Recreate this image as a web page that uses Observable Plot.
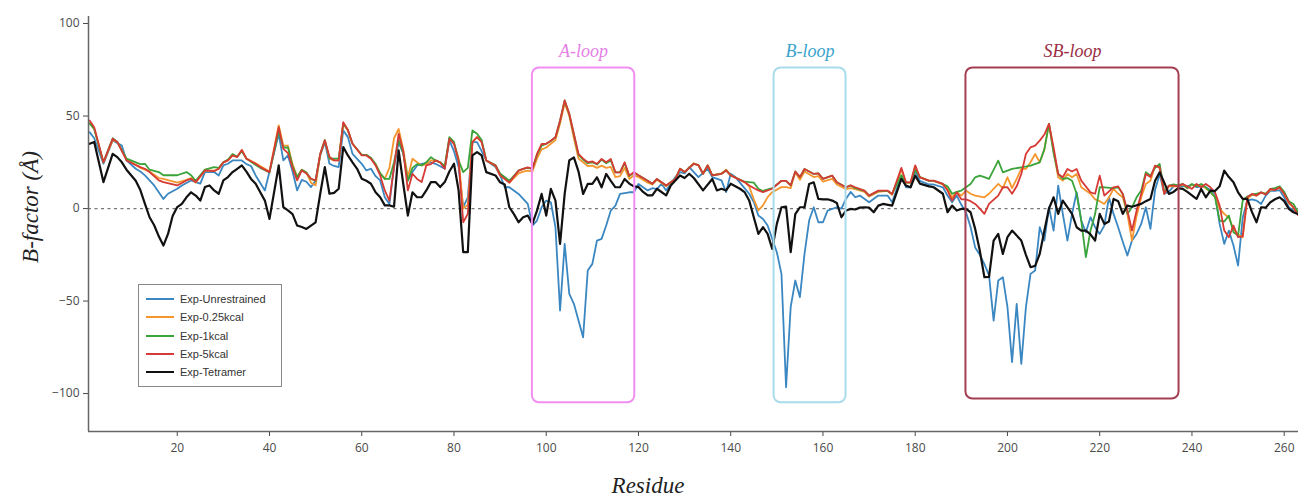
<!DOCTYPE html>
<html><head><meta charset="utf-8">
<script src="https://cdn.jsdelivr.net/npm/d3@7"></script>
<script src="https://cdn.jsdelivr.net/npm/@observablehq/plot@0.6"></script>
<style>
body{margin:0;background:#fff;}
#wrap{position:relative;width:1298px;height:497px;overflow:hidden;}
.ylab{position:absolute;left:31px;top:207px;transform:translate(-50%,-50%) rotate(-90deg);font:italic 23px "Liberation Serif",serif;color:#222;white-space:nowrap;}
.xlab{position:absolute;left:648px;top:486px;transform:translate(-50%,-50%);font:italic 23px "Liberation Serif",serif;color:#222;white-space:nowrap;}
#legend{position:absolute;left:138px;top:284px;width:144px;height:103px;border:1px solid #888;box-sizing:border-box;font:11px "Liberation Sans",Arial,sans-serif;color:#333;background:#fff;}
.row{position:absolute;left:7px;height:14px;display:flex;align-items:center;white-space:nowrap;}
.sw{width:28px;height:0;border-top:2px solid;margin-right:6px;}
</style></head><body><div id="wrap"></div>
<script>
const seriesNames = ["Exp-Unrestrained","Exp-0.25kcal","Exp-1kcal","Exp-5kcal","Exp-Tetramer"];
const seriesColors = ["#3a87c2","#f5962e","#3aa33a","#d63a35","#111111"];

const unrestrained = [[1,41.3],[2,38],[4,24.2],[6,36.8],[8,34],[9,26],[11,21.5],[12,20],[13,17.9],[15,12.5],[17,5.2],[18,8],[20,10.7],[21,12.5],[23,15.2],[24,14.3],[25,13.5],[26,19.7],[28,19.7],[29,17.9],[30,23.3],[31,24.2],[32,26],[34,26],[35,24],[36,23],[37,17.9],[39,9.8],[42,40.4],[43,26],[44,28.7],[45,20],[46,9.8],[47,15.5],[48,14.5],[49,11.6],[50,15],[51,28.7],[52,35.9],[53,24.2],[54,23],[55,22.4],[56,42.2],[57,38.6],[58,29.6],[60,24.2],[61,20.6],[62,21.5],[63,17.5],[64,15.2],[65,6.1],[66,2.5],[67,22.4],[68,35.9],[69,29.6],[70,15.2],[71,19.7],[72,23.3],[73,24.2],[75,25],[76,24.2],[78,21.5],[79,36.8],[80,31],[81,22.4],[82,0.8],[83,6.1],[84,35.9],[85,35.9],[87,26],[89,22.4],[90,18],[91,11.5],[92,11.5],[94,7.9],[95,5.2],[96,2.5],[97,-9.2],[98,-6.5],[99,0.7],[100,4.3],[101,3.4],[102,-10.1],[103,-55.1],[104,-19.1],[105,-46.1],[106,-51.5],[108,-69.6],[109,-33.5],[110,-29.9],[111,-17.3],[112,-16.4],[113,-9.2],[114,-1.1],[115,1.6],[116,7.9],[118,8.8],[119,8.8],[120,13.3],[121,11.5],[122,9.8],[123,11],[124,10.5],[125,13.4],[126,9.8],[128,17],[129,19.7],[130,19],[131,22.4],[133,17],[135,21.5],[136,17],[138,15.2],[139,8.9],[140,18.8],[141,17],[142,14],[144,8],[145,3.5],[146,-3.8],[147,-5.6],[148,-9.2],[150,-23.6],[151,-35.3],[152,-96.6],[153,-53.3],[154,-38.9],[155,-47.9],[156,-24.5],[157,-6.5],[158,0.7],[159,-7.4],[160,-7.4],[161,-1.1],[163,0.7],[164,0],[165,5.3],[166,9],[167,6.1],[168,7],[170,3.4],[172,7],[174,7],[175,3.4],[177,17.8],[178,11.5],[179,11.5],[180,20.5],[181,15],[183,13],[184,13],[186,11.5],[187,7],[188,3.4],[189,7],[190,2],[191,-2],[192,-10],[193,-21],[194,-25],[195,-30],[196,-36],[197,-60.6],[198,-38.9],[199,-37.1],[200,-53.3],[201,-83],[202,-51.5],[203,-84],[204,-53.3],[205,-35.3],[206,-33.5],[207,-10.1],[208,-17.3],[209,0.7],[210,-11.9],[211,12.4],[212,-2.9],[213,-17.3],[214,-2.9],[215,8.8],[216,-6.5],[217,-12.8],[218,-4.7],[219,-10.1],[220,-13.7],[221,-9.2],[222,6.1],[223,-2.9],[224,-10.1],[225,-18],[226,-25.4],[227,-17.3],[228,-13.7],[229,-8.3],[230,0.7],[231,-11],[232,10],[233,18.7],[234,8],[235,9],[236,12],[237,12.5],[238,12],[239,12],[240,13],[241,11.5],[242,12],[243,11.5],[244,10],[245,7.9],[246,-8.3],[247,-19.1],[248,-11.9],[249,-20],[250,-30.8],[251,-5],[252,4.3],[253,5],[254,4.3],[255,2.5],[256,7],[257,9.5],[258,9.5],[259,10],[260,6],[261,0.7],[262,-1],[263,-1.5],[264,-2]];

const kcal025 = [[1,46],[2,43],[4,25],[6,37],[7,36],[9,26.5],[12,22],[13,21],[14,20],[16,16.5],[17,16],[20,14],[22,15.5],[23,16.5],[24,14],[26,20.6],[28,20.5],[29,21.5],[30,25],[31,26],[32,28.7],[33,28],[34,31.7],[35,27],[37,24.5],[38,23],[40,20],[42,45],[43,34],[44,34],[45,24],[46,17],[47,21],[48,19.5],[49,14],[50,12.5],[51,29],[52,37],[53,27],[54,26],[55,26],[56,46],[57,42],[58,35],[60,29],[61,29],[62,27],[63,24],[64,19],[65,16],[66,22],[67,38],[68,43],[69,32],[70,17],[71,26.9],[72,25],[73,23.3],[74,24],[75,26],[76,26],[77,25],[78,22],[79,38],[80,35],[81,27],[82,0],[83,2],[84,36],[85,38.6],[86,36],[87,26],[89,23],[90,18],[92,14],[94,19],[95,20],[96,20.5],[97,20],[98,27],[99,32],[100,33],[101,35],[102,37],[103,46],[104,57],[105,50],[106,38],[107,27],[108,25],[109,23],[110,23.2],[111,22],[112,23.2],[113,22],[114,22.5],[115,17],[116,17.5],[117,22],[118,16],[119,18],[120,17],[122,14],[123,13],[124,15.5],[126,12],[128,16],[129,21.5],[130,19.7],[132,24.5],[133,23.5],[134,18.8],[135,23.5],[136,18],[138,19],[139,21],[140,18],[143,14.3],[144,12],[145,5],[146,-1],[147,1.7],[148,6.2],[149,8.9],[151,11.6],[152,11.6],[153,11],[154,19.6],[155,15.5],[156,20],[158,17],[159,17.5],[160,14.5],[162,16],[163,13],[165,10.5],[166,11],[167,10.5],[169,9],[170,6.5],[172,9],[174,9.5],[175,7.5],[177,21],[178,14],[179,14],[180,23],[181,17],[183,15],[184,15],[186,13],[187,10.6],[188,6],[189,9],[190,7],[191,9.7],[192,8],[193,7],[195,6.1],[196,8],[198,13.3],[199,11],[200,16.9],[201,11],[202,16],[203,21.4],[204,21.4],[205,25],[206,29.5],[207,25],[208,32],[209,45.8],[210,31],[211,16.9],[212,15.1],[213,18.7],[214,16.9],[215,18.7],[216,11.5],[218,8],[219,5],[220,4],[221,2.5],[222,6],[223,10.6],[224,8],[225,6.1],[226,-3],[227,-17.3],[228,-4],[229,6.1],[230,13.3],[231,15],[232,23],[233,22],[234,8],[235,12],[236,12],[237,12],[238,13],[239,11],[240,13],[241,12],[242,13],[243,11],[244,9],[245,6.1],[246,0],[247,-2.9],[248,-5],[249,-11],[250,-14],[251,-15.5],[252,5],[253,7.5],[254,7],[255,8.5],[256,8],[257,10],[258,10.5],[259,11],[260,8],[261,3],[262,0.5],[263,-3],[264,-5]];

const kcal1 = [[1,46],[2,43],[4,25],[6,38],[7,36],[9,27],[12,24],[13,24.2],[14,21],[16,19.7],[17,18],[20,18],[22,19.7],[23,18],[24,15],[26,21],[28,22.4],[29,22],[30,25],[31,26.5],[32,29.5],[33,28],[34,31],[35,27],[37,23.5],[38,22],[40,19.5],[42,42],[43,33],[44,33],[45,23],[46,17],[47,21],[48,19.5],[49,16],[50,15],[51,29.5],[52,37],[53,27],[54,27],[55,27],[56,46],[57,42.5],[58,35],[60,29],[61,29],[62,27.5],[63,24],[64,19],[65,16],[66,16],[67,25],[68,37],[69,30],[70,15],[71,22],[72,24],[73,23.3],[74,25],[75,27.8],[76,26],[77,25],[78,23],[79,38.6],[80,36],[81,26],[82,19.7],[83,22],[84,42.2],[85,40.4],[86,37],[87,26],[89,23.5],[90,19],[92,15],[94,20.5],[95,21.5],[96,22],[97,21.5],[98,29],[99,34],[100,35],[101,36.5],[102,38.5],[103,47.5],[104,58.4],[105,51],[106,40],[107,29],[108,26.5],[109,24.5],[110,25],[111,23.8],[112,26.5],[113,24.5],[114,26],[115,19.5],[116,19.5],[117,24.5],[118,17.5],[119,19.5],[120,18],[122,15],[123,13.4],[124,16],[126,12.5],[128,16],[129,21.5],[130,19.7],[132,24.2],[133,23.5],[134,18.8],[135,23.3],[136,17.9],[138,18.8],[139,20.6],[140,17.9],[143,14.5],[144,14.3],[145,14],[146,10.7],[147,9.5],[149,11],[151,15],[152,15],[153,12.5],[154,20],[155,17],[156,21.4],[158,18.7],[159,19],[160,16],[162,17.8],[163,14.2],[165,11.5],[166,12.5],[167,11],[169,9.5],[170,7],[172,9.5],[174,9.5],[175,7.9],[177,18],[178,14],[179,14],[180,21],[181,17],[183,15],[184,15],[186,13.3],[187,12],[188,8],[189,9],[190,9.7],[191,11.5],[192,13.3],[193,16.9],[194,17.8],[195,17],[196,16],[198,25.9],[199,19.6],[200,20.5],[201,21.4],[203,22.3],[205,23.2],[207,25],[208,32],[209,45.8],[210,30],[211,18.7],[212,16],[213,16.5],[214,15],[215,8],[216,-6.5],[217,-26.3],[218,-12],[219,-3],[220,11.5],[221,11.5],[223,11],[224,11.5],[225,7.9],[226,-2.9],[227,0.7],[228,6.1],[229,9.7],[230,19.6],[231,17.8],[232,22],[233,24.1],[234,8.8],[235,12.4],[236,13],[237,12.5],[238,13.3],[239,11],[240,13.3],[241,12],[242,13.3],[243,11.5],[244,9],[245,6.1],[246,-6.5],[247,-7],[248,-3.8],[249,-12.8],[250,-14.6],[251,4.3],[252,6.5],[253,7.5],[254,8],[255,8.8],[256,8],[257,10.6],[258,11],[259,12],[260,9],[261,4],[262,2.5],[263,-2],[264,-4]];

const kcal5 = [[1,47.6],[2,44],[4,25],[6,37.7],[7,36],[9,26],[12,22.4],[13,21.5],[14,19.7],[16,15.2],[17,14.3],[20,12.5],[22,15.2],[23,16.1],[24,14.3],[26,20.6],[28,20.2],[29,21.5],[30,25],[31,26],[32,28.7],[33,27.8],[34,31.7],[35,26.9],[37,24.2],[38,22.4],[40,19.7],[42,44],[43,32.3],[44,30],[45,22],[46,15.2],[47,20.6],[48,19],[49,16.1],[50,15.2],[51,29.6],[52,36.8],[53,28],[54,26],[55,26],[56,46.7],[57,42.5],[58,35],[60,28.7],[61,28.7],[62,26.9],[63,23.3],[64,17.9],[65,9.8],[66,4.3],[67,22.4],[68,40.4],[69,31],[70,9.8],[71,18.8],[72,16],[73,14.3],[74,23.3],[75,24],[76,26],[77,25],[78,21.5],[79,37.7],[80,35],[81,26],[82,-7.4],[83,-2.9],[84,35.9],[85,38.6],[86,35.9],[87,26],[89,23.3],[90,18],[92,14],[94,20.5],[95,21.4],[96,22.3],[97,21.4],[98,29.5],[99,34.9],[100,35],[101,36.7],[102,38.5],[103,47.6],[104,58.4],[105,51.2],[106,40.3],[107,29.5],[108,27],[109,25],[110,25.5],[111,24.1],[112,26.8],[113,25],[114,26.8],[115,19.6],[116,19.6],[117,25],[118,17.8],[119,19.6],[120,18],[122,15],[123,13.4],[124,16],[126,12.5],[128,16],[129,21.5],[130,19.7],[132,24.2],[133,23.5],[134,18.8],[135,23.3],[136,17.9],[138,18.8],[139,20.6],[140,17.9],[143,14.3],[144,12.5],[146,9.8],[147,8.9],[149,10.7],[151,15],[152,15],[153,12.5],[154,20],[155,17],[156,21.4],[158,18.7],[159,19],[160,16],[162,17.8],[163,14.2],[165,11.5],[166,12.5],[167,11.5],[169,9.7],[170,7],[172,9.7],[174,9.7],[175,7.9],[177,22],[178,14.2],[179,14.2],[180,23.3],[181,16.9],[183,15.1],[184,15.1],[186,13.3],[187,9.7],[188,4.3],[189,8.8],[190,5],[191,5],[192,4],[193,2.5],[194,0],[195,-2.9],[196,2.5],[198,7],[199,11.5],[200,11.5],[201,8],[202,12],[203,18.7],[204,29.5],[205,33.1],[206,34],[207,36.7],[208,40],[209,45.8],[210,33.1],[211,18.7],[212,16.9],[213,21.4],[214,20],[215,21.4],[216,15.1],[218,8.8],[219,8],[220,17.8],[221,7],[223,11.5],[224,12],[225,7.9],[226,-1.1],[227,-11.9],[228,-1.1],[229,7.9],[230,18.7],[231,17],[232,23.2],[233,22.3],[234,7.9],[235,12.4],[236,12.4],[237,12],[238,13.3],[239,12],[240,10.6],[241,13.3],[242,11.5],[243,13.3],[244,11.5],[245,8.8],[246,1.6],[247,-11.9],[248,-15.5],[249,-9.2],[250,-15.5],[251,-15],[252,6.1],[253,7.9],[254,7],[255,8.8],[256,7.5],[257,10.6],[258,10],[259,11.5],[260,8],[261,3.4],[262,0.7],[263,-3.5],[264,-5]];

const tetramer = [[1,35],[2,36],[4,14.3],[6,29.6],[7,27.8],[8,25],[9,21],[10,18],[11,15],[12,10],[13,2.5],[14,-4.7],[15,-9],[16,-15],[17,-20],[18,-13.7],[19,-4],[20,0.8],[21,2.5],[22,6.1],[23,8.8],[24,7],[25,4.3],[26,11.6],[27,12.5],[28,9.8],[29,8],[30,15.2],[31,17],[32,19.7],[33,21.5],[34,23.3],[35,20],[36,16],[37,13.4],[38,8.8],[39,4.3],[40,-5.6],[42,23.3],[43,0.8],[44,-1],[45,-3],[46,-9.2],[47,-10],[48,-11],[49,-9.2],[50,-7.5],[51,8],[52,22.4],[53,8],[54,8.5],[55,10.7],[56,33.2],[57,28.7],[58,25],[59,21.5],[60,16.1],[61,15],[62,13.4],[63,8.8],[64,6.1],[65,1.7],[66,1.7],[67,1],[68,31.4],[69,13.4],[70,-3.8],[71,8.8],[72,6.1],[73,6.1],[74,9.8],[75,14.3],[76,14.3],[77,11.6],[78,14.3],[79,20],[80,24.2],[81,9.8],[82,-23.6],[83,-23.6],[84,28.7],[85,30.5],[86,28.7],[87,19.7],[89,17.9],[90,14.2],[91,13],[92,0.7],[93,-3],[94,-7.4],[95,-4.7],[96,-3.8],[97,-8.3],[98,-1.1],[99,7.9],[100,-3.8],[101,10.6],[102,4.3],[103,-19.1],[104,7.9],[105,26],[106,27.7],[107,20],[108,7.9],[109,13.3],[110,13.3],[111,16.9],[112,11.5],[113,18.7],[114,15],[115,11.5],[116,11.5],[117,16],[118,13.5],[119,12],[120,11.6],[121,9],[122,7.1],[123,7.1],[124,10.7],[126,7.1],[127,12.5],[129,17.9],[130,16.5],[131,18.8],[132,16.5],[134,9.8],[136,16],[137,9.8],[138,10.7],[139,9.8],[140,13.4],[142,10.7],[143,8.9],[144,4.4],[145,-4.7],[146,-13.7],[147,-10.1],[148,-13.7],[149,-21.8],[150,-8.3],[151,0.7],[152,1],[153,-23.6],[154,-3],[155,0.7],[156,0.7],[157,13.3],[158,14.2],[159,5.2],[160,5],[161,5],[162,4.3],[163,3],[164,-4.7],[165,-1.1],[166,-0.2],[167,-0.5],[168,0.5],[169,0.7],[170,0.5],[171,-2],[172,1.6],[173,2.5],[175,1.6],[177,16],[178,12.4],[179,11.5],[180,17.8],[181,13.5],[183,12],[184,11.5],[186,8],[187,-2],[188,1.6],[189,-1.1],[190,-0.2],[191,-0.2],[192,-2],[193,-11],[194,-22.7],[195,-37.1],[196,-37],[197,-17.3],[198,-13.7],[199,-24.5],[200,-15.5],[201,-11.9],[203,-17.3],[204,-25],[205,-31.7],[206,-31],[207,-24.5],[208,-12],[209,0],[210,6.1],[211,-2.9],[212,4.3],[214,-2.9],[215,-10.1],[216,-11.9],[217,-11.9],[218,-14],[219,-17.3],[220,-2.9],[221,-8.3],[222,-7],[223,5.2],[224,4],[225,-2.9],[226,1.6],[227,1],[229,2.5],[230,4],[231,5.2],[232,15],[233,19.6],[234,14],[235,7.9],[236,9],[237,11],[238,10.6],[239,9],[241,5.2],[242,10.6],[243,6.1],[244,9.7],[245,9.5],[246,12],[247,20.5],[248,17],[249,14.2],[250,8.8],[251,5.2],[252,5.2],[253,-1.8],[254,-7.4],[255,0.7],[256,0.5],[257,3.4],[258,5],[259,6.1],[260,4],[261,-0.2],[262,-2],[263,-3],[264,-3]];

const loopNames = ["A-loop","B-loop","SB-loop"];
const loopStart = [97, 149.4, 191];
const loopEnd = [119.2, 165, 237.2];
const loopLow = [-105, -105, -103];
const loopHigh = [76, 76, 76];
const loopStroke = ["#f28ef2","#a9dcea","#a63e52"];
const loopText = ["#e57fe6","#3aa3cc","#9a2e44"];

const xTicks = [20,40,60,80,100,120,140,160,180,200,220,240,260];
const yTicks = [-100,-50,0,50,100];

const allSeries = [unrestrained, kcal025, kcal1, kcal5, tetramer];
const tables = allSeries.map((s, i) => s.map(([r, v]) => ({residue: r, value: v, series: seriesNames[i]})));
const loops = loopNames.map((n, i) => ({name: n, x1: loopStart[i], x2: loopEnd[i], y1: loopLow[i], y2: loopHigh[i], stroke: loopStroke[i], text: loopText[i], xm: (loopStart[i] + loopEnd[i]) / 2}));

const xDom = [0.76, 263.1];
const yDom = [-120.5, 103.8];

const chart = Plot.plot({
  width: 1298, height: 497,
  marginLeft: 88, marginRight: 0, marginTop: 16, marginBottom: 66,
  style: {fontFamily: "'Open Sans', sans-serif", fontSize: "12px", color: "#4a4a4a", background: "#fff", overflow: "visible"},
  x: {domain: xDom, ticks: xTicks, tickSize: 5, tickPadding: 7, label: null},
  y: {domain: yDom, ticks: yTicks, tickSize: 5, tickPadding: 4, label: null},
  marks: [
    Plot.ruleY([0], {stroke: "#777", strokeDasharray: "3,3.5", strokeWidth: 1.2}),
    ...tables.map((t, i) => Plot.line(t, {x: "residue", y: "value", stroke: seriesColors[i], strokeWidth: i === 4 ? 2.2 : 1.8, clip: true})),
    Plot.rect(loops, {x1: "x1", x2: "x2", y1: "y1", y2: "y2", stroke: "stroke", fill: "none", strokeWidth: 2, rx: 7}),
    Plot.text(loops, {x: "xm", y: "y2", text: "name", fill: "text", dy: -17, fontSize: 18, fontStyle: "italic", fontFamily: "'Liberation Serif', serif"}),
    Plot.ruleX([xDom[0]], {stroke: "#666", strokeWidth: 1.5}),
    Plot.ruleY([yDom[0]], {stroke: "#666", strokeWidth: 1.5})
  ]
});

const wrap = document.getElementById("wrap");
wrap.appendChild(chart);
const yl = document.createElement("div"); yl.className = "ylab"; yl.textContent = "B-factor (Å)"; wrap.appendChild(yl);
const xl = document.createElement("div"); xl.className = "xlab"; xl.textContent = "Residue"; wrap.appendChild(xl);
const lg = document.createElement("div"); lg.id = "legend";
seriesNames.forEach((n, i) => {
  const row = document.createElement("div"); row.className = "row"; row.style.top = (7 + i * 18.3) + "px";
  const sw = document.createElement("span"); sw.className = "sw"; sw.style.borderTopColor = seriesColors[i];
  const tx = document.createElement("span"); tx.textContent = n;
  row.appendChild(sw); row.appendChild(tx); lg.appendChild(row);
});
wrap.appendChild(lg);
</script></body></html>
